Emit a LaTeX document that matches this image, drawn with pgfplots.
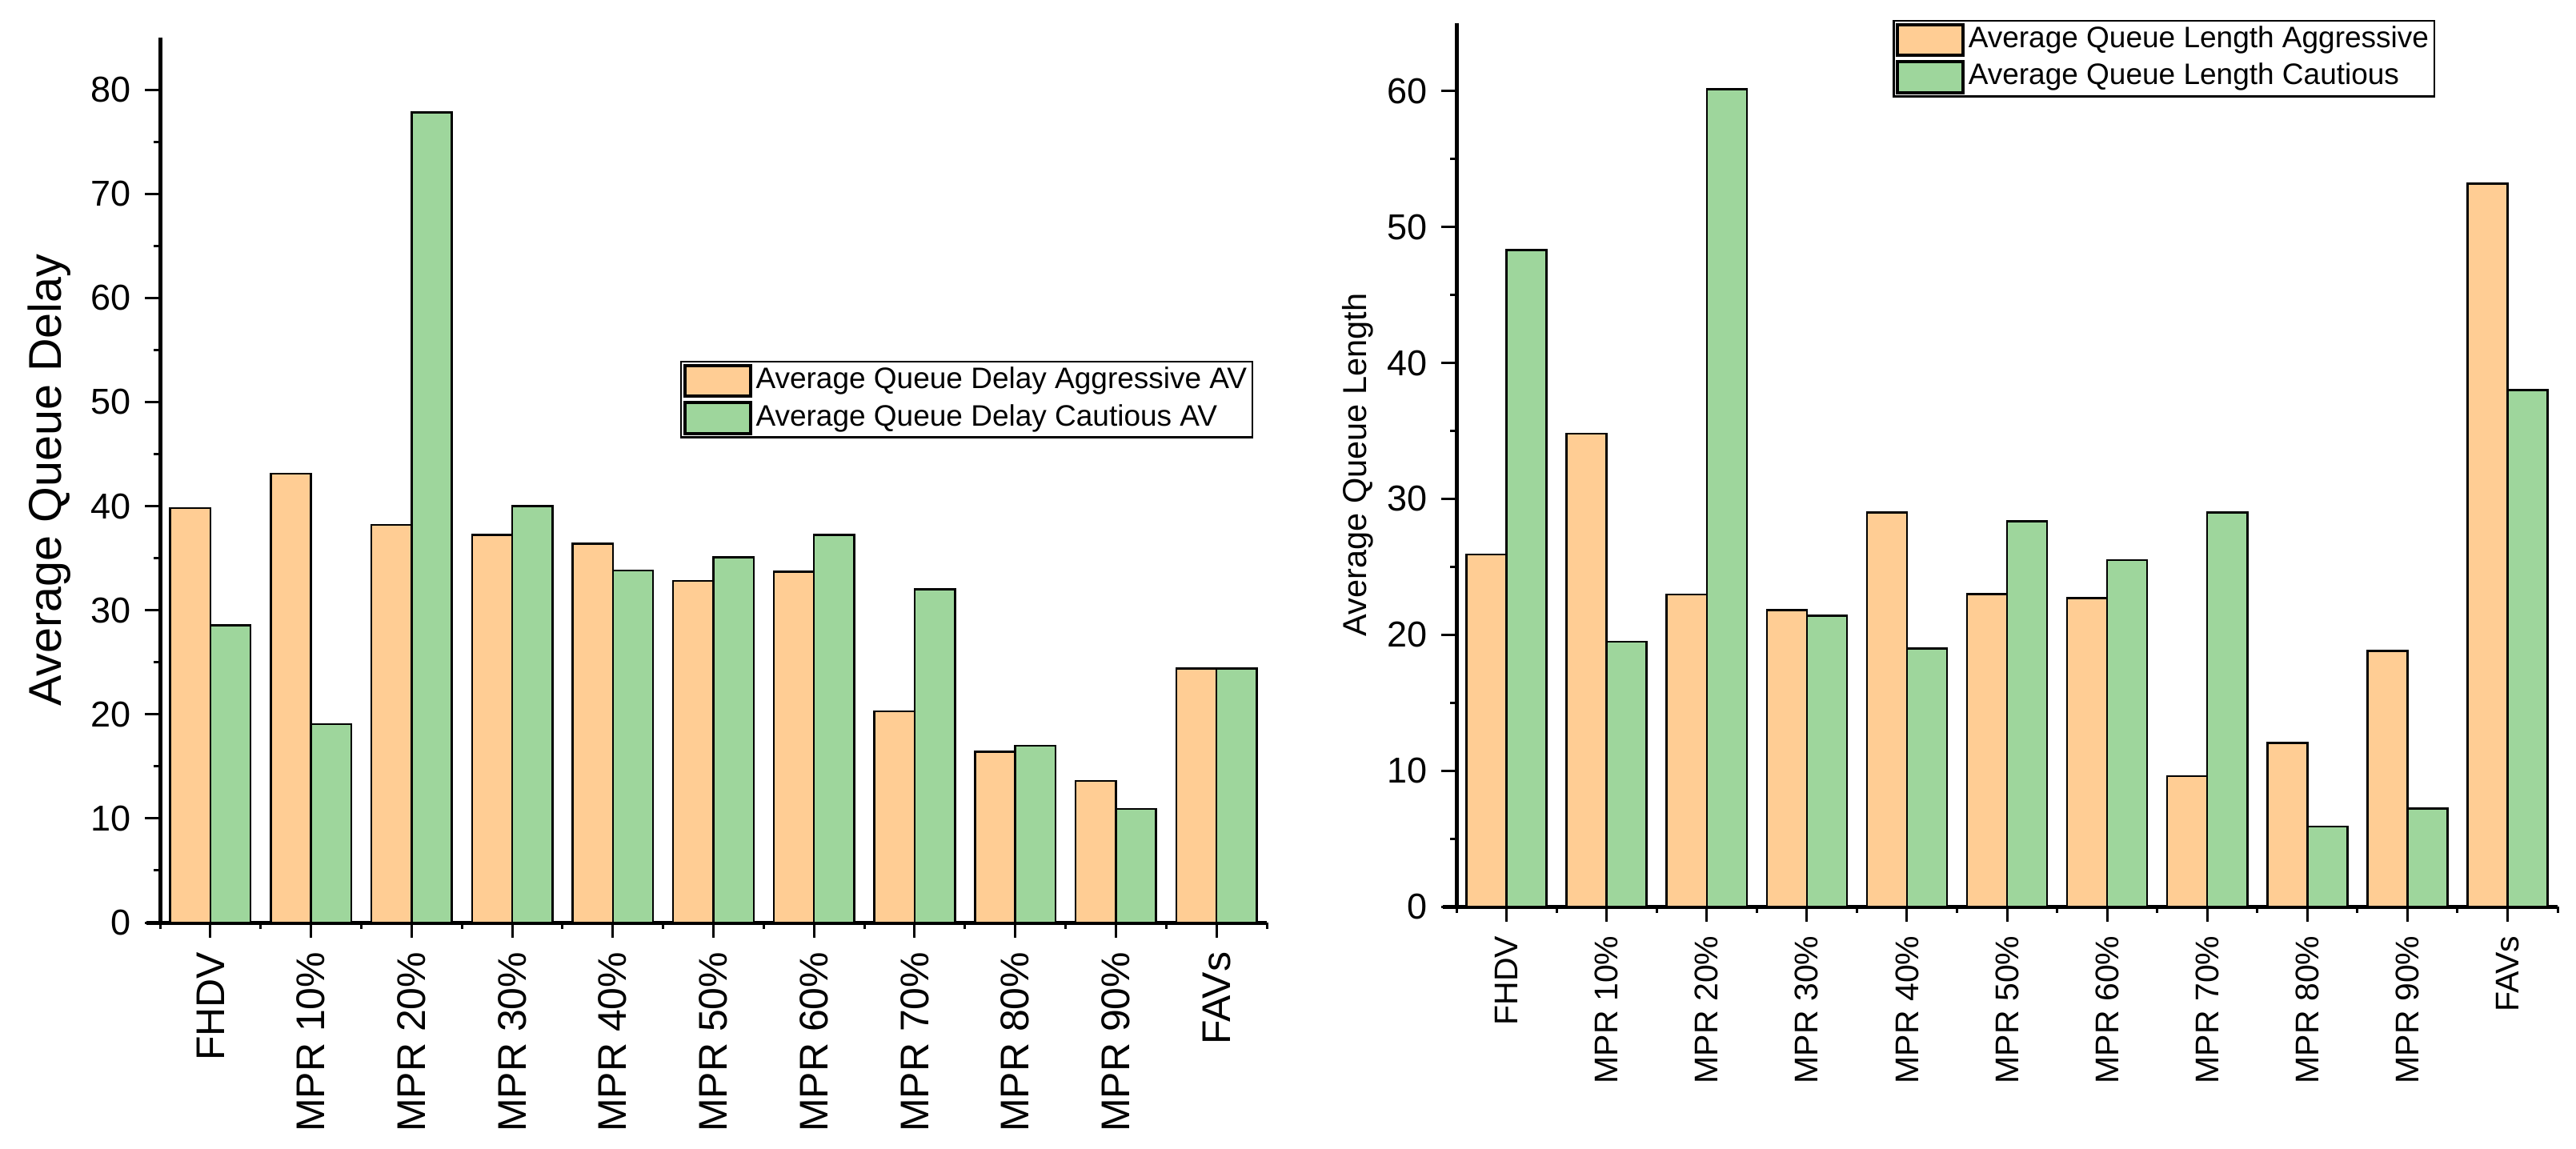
\documentclass[border=0pt]{standalone}
\usepackage{pgfplots}
\pgfplotsset{compat=1.18}
\usepackage{fontspec}
\setmainfont{Liberation Sans}
\definecolor{aggr}{RGB}{255,205,148}
\definecolor{caut}{RGB}{158,214,156}
\pgfplotstableread{
x agg caut
0 39.8 28.55
1 43.1 19.05
2 38.2 77.8
3 37.25 40.0
4 36.4 33.8
5 32.8 35.1
6 33.7 37.25
7 20.3 32.0
8 16.4 17.0
9 13.6 10.9
10 24.4 24.4
}\delaytab
\pgfplotstableread{
x agg caut
0 25.9 48.3
1 34.8 19.5
2 22.95 60.15
3 21.8 21.4
4 29.0 19.0
5 23.0 28.35
6 22.7 25.5
7 9.6 29.0
8 12.05 5.9
9 18.8 7.2
10 53.2 38.0
}\lengthtab
\pgfplotsset{
  common/.style={
    scale only axis,
    ybar, ybar=0pt, bar width=0.4,
    xmin=-0.5, xmax=10.5, ymin=0,
    enlargelimits=false,
    axis lines=left,
    axis line style={-, line width=1pt},
    x axis line style={shorten <=-3.4pt},
    tick align=outside,
    xtick={0,...,10},
    minor xtick={-0.5,0.5,...,10.5},
    major tick length=3.8pt, minor tick length=1.6pt,
    every tick/.style={black, line width=0.6pt},
    minor y tick num=1,
    /pgf/number format/assume math mode=true,
    xticklabels={FHDV,MPR 10\%,MPR 20\%,MPR 30\%,MPR 40\%,MPR 50\%,MPR 60\%,MPR 70\%,MPR 80\%,MPR 90\%,FAVs},
    yticklabel style={font=\fontsize{9}{10}\selectfont},
    legend cell align=left,
    legend image code/.code={\draw[##1, draw=black, line width=0.8pt] (0cm,-0.135cm) rectangle (0.58cm,0.135cm);},
    legend style={font=\fontsize{7.4}{8.5}\selectfont, draw=black, line width=0.5pt, inner sep=0.5pt, row sep=0.6pt,
      nodes={inner sep=0.9pt}},
  },
  bars/.style={draw=black, line width=0.5pt},
}
\begin{document}
\begin{tikzpicture}
\path[use as bounding box] (0,0) rectangle (643.8pt,287pt);
\begin{axis}[common,
  at={(40pt,56.4pt)}, anchor=south west,
  width=276.6pt, height=221.2pt,
  ymax=85, ytick={0,10,...,80},
  xticklabel style={rotate=90, anchor=east, font=\fontsize{10}{12}\selectfont},
  ylabel={Average Queue Delay},
  ylabel style={at={(axis description cs:-0.0998,0.5)}, anchor=center, font=\fontsize{11.5}{13}\selectfont},
  legend style={at={(0.988,0.635)}, anchor=north east},
]
\addplot[bars, fill=aggr] table[x=x, y=agg] {\delaytab};
\addplot[bars, fill=caut] table[x=x, y=caut] {\delaytab};
\legend{Average Queue Delay Aggressive AV, Average Queue Delay Cautious AV}
\end{axis}
\begin{axis}[common,
  at={(364pt,60.4pt)}, anchor=south west,
  width=275.2pt, height=220.8pt,
  ymax=65, ytick={0,10,...,60},
  xticklabel style={rotate=90, anchor=east, font=\fontsize{8.2}{10}\selectfont},
  ylabel={Average Queue Length},
  ylabel style={at={(axis description cs:-0.0894,0.5)}, anchor=center, font=\fontsize{8.3}{10}\selectfont},
  legend style={at={(0.889,1.004)}, anchor=north east},
]
\addplot[bars, fill=aggr] table[x=x, y=agg] {\lengthtab};
\addplot[bars, fill=caut] table[x=x, y=caut] {\lengthtab};
\legend{Average Queue Length Aggressive, Average Queue Length Cautious}
\end{axis}
\end{tikzpicture}
\end{document}
